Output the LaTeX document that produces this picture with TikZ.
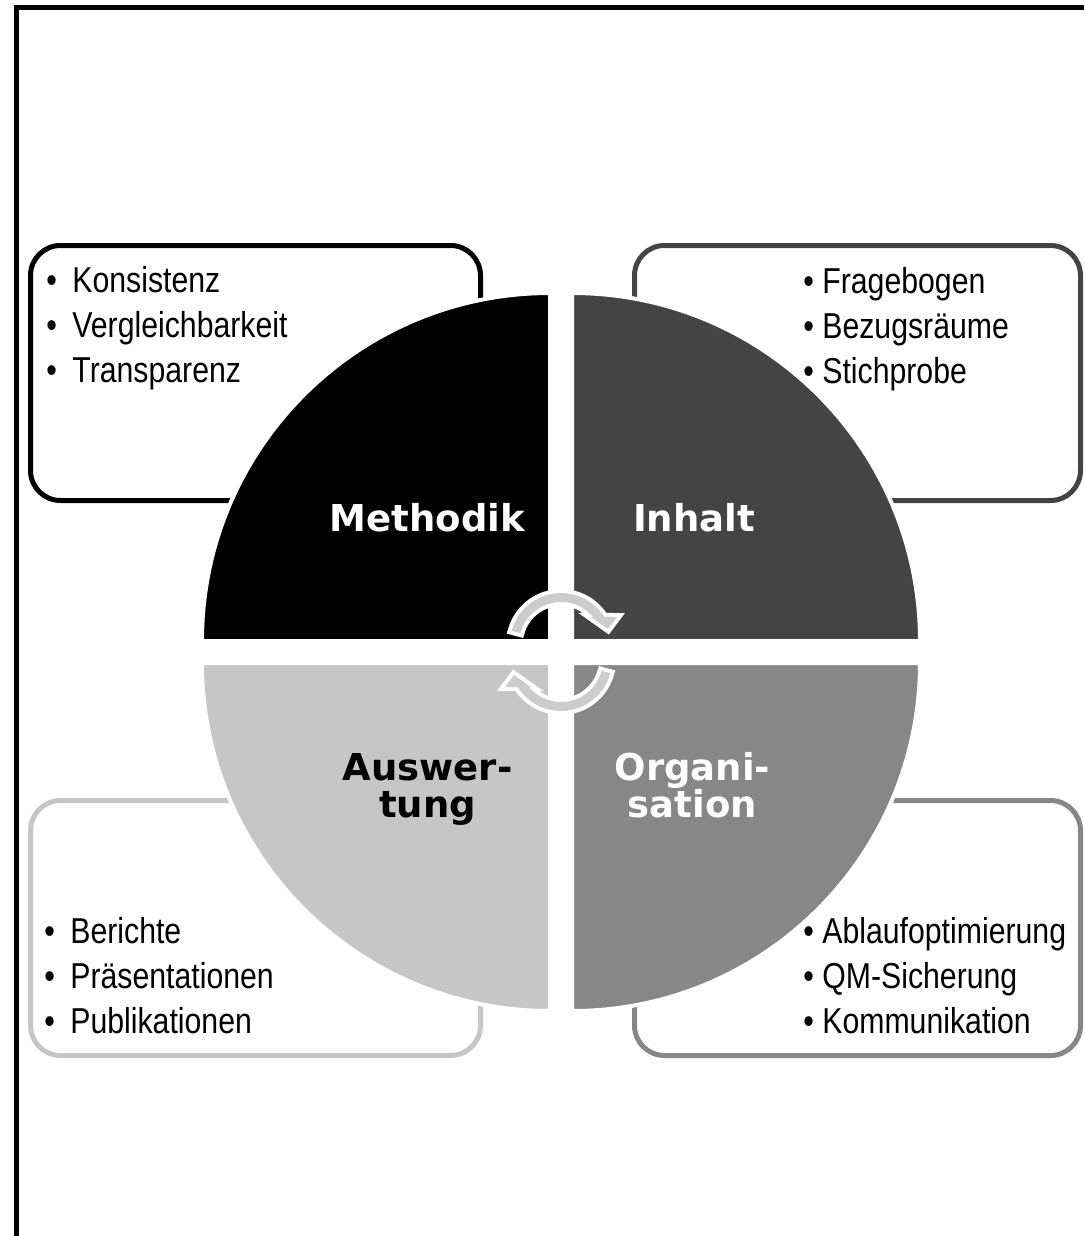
\documentclass[tikz,border=0pt]{standalone}
\usepackage{fontspec}
\usetikzlibrary{calc}
\newfontfamily\narrowfont[FakeStretch=0.84]{Liberation Sans}
\newfontfamily\headfont{DejaVu Sans}
\definecolor{methodik}{HTML}{000000}
\definecolor{inhalt}{HTML}{444444}
\definecolor{organisation}{HTML}{878787}
\definecolor{auswertung}{HTML}{C6C6C6}
\definecolor{arrowgray}{HTML}{CCCCCC}
\def\blt{\makebox[13pt][l]{\textbullet}}
\def\brt{\textbullet\ }
\def\cyclearrow{($(561,644)+(195:51)$) arc[start angle=195, end angle=328, radius=51]
  -- (617,617) -- (608,629) -- (591,617) -- ($(561,644)+(320:42)$)
  arc[start angle=320, end angle=195, radius=42] -- cycle}

\begin{document}
\begin{tikzpicture}[x=0.5pt,y=-0.5pt,
    infobox/.style={line width=2.5pt,rounded corners=15pt},
    quarter/.style={draw=white,line width=2pt},
    itemlist/.style={font=\narrowfont\fontsize{18}{22.5}\selectfont,align=left,anchor=base west,inner sep=0pt},
    heading/.style={font=\headfont\bfseries\fontsize{18.5}{18.5}\selectfont,align=center,anchor=base,inner sep=0pt},
    cycle arrow/.style={fill=arrowgray,preaction={draw=white,line width=4pt,line join=miter}}]
    \useasboundingbox (0,0) rectangle (1084,1236);
    % frame
    \draw[line width=2.5pt] (16.5,1236) -- (16.5,7.5) -- (1084,7.5);
    % boxes
    \draw[infobox,draw=methodik] (30.5,245.5) rectangle (480.5,500.5);
    \draw[infobox,draw=inhalt] (634.5,245.5) rectangle (1080.5,500.5);
    \draw[infobox,draw=auswertung] (30.5,800.5) rectangle (480.5,1055.5);
    \draw[infobox,draw=organisation] (634.5,800.5) rectangle (1080.5,1055.5);
    % circle quarters
    \filldraw[quarter,fill=methodik] (550,641) -- (202,641) arc[start angle=180, end angle=270, radius=348] -- cycle;
    \filldraw[quarter,fill=inhalt] (572,641) -- (572,293) arc[start angle=270, end angle=360, radius=348] -- cycle;
    \filldraw[quarter,fill=organisation] (572,663) -- (920,663) arc[start angle=0, end angle=90, radius=348] -- cycle;
    \filldraw[quarter,fill=auswertung] (550,663) -- (550,1011) arc[start angle=90, end angle=180, radius=348] -- cycle;
    % lists (base = last line)
    \node[itemlist] (mlist) at (46,382) {\blt Konsistenz\\\blt Vergleichbarkeit\\\blt Transparenz};
    \node[itemlist] (ilist) at (803,383) {\brt Fragebogen\\\brt Bezugsräume\\\brt Stichprobe};
    \node[itemlist] (alist) at (44,1033) {\blt Berichte\\\blt Präsentationen\\\blt Publikationen};
    \node[itemlist] (olist) at (803,1033) {\brt Ablaufoptimierung\\\brt QM-Sicherung\\\brt Kommunikation};
    % headings
    \node[heading,text=white] (methodik) at (427.5,531) {Methodik};
    \node[heading,text=white] (inhalt) at (694,531) {Inhalt};
    \node[heading,text=black] (auswertung) at (427.5,817) {Auswer-\\tung};
    \node[heading,text=white] (organisation) at (692.5,817) {Organi-\\sation};
    % cycle arrows
    \path[cycle arrow] \cyclearrow;
    \begin{scope}[rotate around={180:(561,652)}]
        \path[cycle arrow] \cyclearrow;
    \end{scope}
\end{tikzpicture}
\end{document}
